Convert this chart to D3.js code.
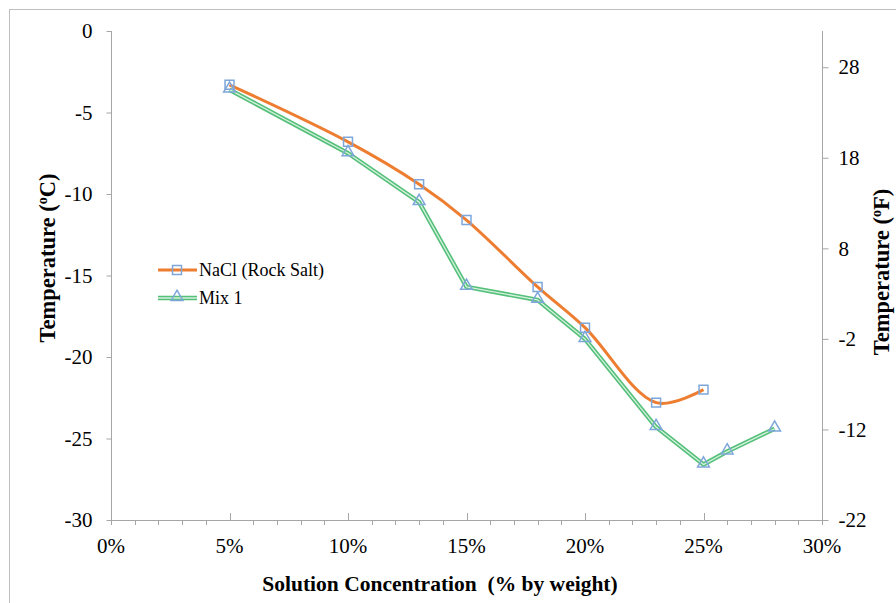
<!DOCTYPE html>
<html>
<head>
<meta charset="utf-8">
<script src="https://cdn.jsdelivr.net/npm/d3@7"></script>
<style>
  body { margin: 0; background: #fff; }
  svg { display: block; }
</style>
</head>
<body>
<div id="chart"></div>
<script>
// concentration (% by weight) and freezing temperatures (deg C)
var naclConc = [5, 10, 13, 15, 18, 20, 23, 25];
var naclTemp = [-3.3, -6.8, -9.4, -11.6, -15.7, -18.2, -22.8, -22.0];
var mixConc = [5, 10, 13, 15, 18, 20, 23, 25, 26, 28];
var mixTemp = [-3.6, -7.5, -10.5, -15.7, -16.5, -18.9, -24.3, -26.6, -25.8, -24.4];
var xTicks = [0, 5, 10, 15, 20, 25, 30];
var yTicks = [0, -5, -10, -15, -20, -25, -30];
var fTicks = [28, 18, 8, -2, -12, -22];
var seriesNames = ["NaCl (Rock Salt)", "Mix 1"];

var W = 896, H = 603;
var plotL = 111, plotR = 822, plotT = 31, plotB = 520;
var axisColor = "#a6a6a6";
var markerColor = "#7ea6da";
var serif = "'Liberation Serif', 'Times New Roman', Times, 'DejaVu Serif', serif";
var tickFont = 21, titleFont = 21.5, sideTitleFont = 22.5;

var svg = d3.select("#chart").append("svg")
  .attr("width", W)
  .attr("height", H)
  .attr("font-family", serif);

// outer chart border (cropped on right and bottom)
svg.append("rect")
  .attr("x", 9.5).attr("y", 9.5)
  .attr("width", W).attr("height", H)
  .attr("fill", "none").attr("stroke", "#bfbfbf");

var x = d3.scaleLinear().domain([0, 30]).range([plotL, plotR]);
var y = d3.scaleLinear().domain([-30, 0]).range([plotB, plotT]);
var yF = d3.scaleLinear().domain([-22, 32]).range([plotB, plotT]);

// x axis: minor ticks outside, major ticks inside
svg.append("g")
  .selectAll("line")
  .data(d3.range(1, 31).filter(d => d % 5 !== 0))
  .join("line")
  .attr("x1", d => Math.round(x(d)) + 0.5).attr("x2", d => Math.round(x(d)) + 0.5)
  .attr("y1", plotB).attr("y2", plotB + 5)
  .attr("stroke", axisColor);
svg.append("g")
  .selectAll("line")
  .data(xTicks)
  .join("line")
  .attr("x1", d => Math.round(x(d)) + 0.5).attr("x2", d => Math.round(x(d)) + 0.5)
  .attr("y1", plotB - 7).attr("y2", plotB)
  .attr("stroke", axisColor);
svg.append("line")
  .attr("x1", plotL).attr("x2", plotR + 1)
  .attr("y1", plotB + 0.5).attr("y2", plotB + 0.5)
  .attr("stroke", axisColor);
svg.append("g")
  .selectAll("text")
  .data(xTicks)
  .join("text")
  .attr("x", d => x(d))
  .attr("y", plotB + 33)
  .attr("text-anchor", "middle")
  .attr("font-size", tickFont)
  .text(d => d + "%");

// left axis
var yAxis = svg.append("g")
  .attr("transform", "translate(" + (plotL + 0.5) + ",0)")
  .call(d3.axisLeft(y).tickValues(yTicks).tickFormat(d => String(d))
    .tickSize(5).tickPadding(14).tickSizeOuter(0));
yAxis.attr("font-family", serif);
yAxis.select(".domain").attr("stroke", axisColor).attr("d", "M0," + plotT + "V" + (plotB + 5));
yAxis.selectAll(".tick line").attr("stroke", axisColor);
yAxis.selectAll(".tick text").attr("font-size", tickFont).attr("fill", "#000");

// right axis (deg F)
var fAxis = svg.append("g")
  .attr("transform", "translate(" + (plotR + 0.5) + ",0)")
  .call(d3.axisRight(yF).tickValues(fTicks).tickFormat(d => String(d))
    .tickSize(6).tickPadding(10).tickSizeOuter(0));
fAxis.attr("font-family", serif);
fAxis.select(".domain").attr("stroke", axisColor).attr("d", "M0," + plotT + "V" + (plotB + 5));
fAxis.selectAll(".tick line").attr("stroke", axisColor);
fAxis.selectAll(".tick text").attr("font-size", tickFont).attr("fill", "#000");

// axis titles
svg.append("text")
  .attr("x", 440).attr("y", 591)
  .attr("text-anchor", "middle")
  .attr("font-size", titleFont).attr("font-weight", "bold")
  .style("white-space", "pre")
  .text("Solution Concentration  (% by weight)");

var lt = svg.append("text")
  .attr("transform", "translate(55,258) rotate(-90)")
  .attr("text-anchor", "middle")
  .attr("font-size", sideTitleFont).attr("font-weight", "bold");
lt.append("tspan").text("Temperature (");
lt.append("tspan").attr("font-size", 14).attr("dy", -8).text("o");
lt.append("tspan").attr("dy", 8).text("C)");

var rt = svg.append("text")
  .attr("transform", "translate(889,272) rotate(-90)")
  .attr("text-anchor", "middle")
  .attr("font-size", sideTitleFont).attr("font-weight", "bold");
rt.append("tspan").text("Temperature (");
rt.append("tspan").attr("font-size", 14).attr("dy", -8).text("o");
rt.append("tspan").attr("dy", 8).text("F)");

// series
var nacl = naclConc.map((c, i) => [c, naclTemp[i]]);
var mix = mixConc.map((c, i) => [c, mixTemp[i]]);

var smooth = d3.line().x(d => x(d[0])).y(d => y(d[1])).curve(d3.curveCatmullRom.alpha(0.5));
var straight = d3.line().x(d => x(d[0])).y(d => y(d[1]));

function greenLine(g, path) {
  g.append("path").attr("d", path).attr("fill", "none")
    .attr("stroke", "#55c07a").attr("stroke-width", 4.5).attr("stroke-linejoin", "round");
  g.append("path").attr("d", path).attr("fill", "none")
    .attr("stroke", "#d6f1df").attr("stroke-width", 1.3).attr("stroke-linejoin", "round");
}

greenLine(svg.append("g"), straight(mix));
svg.append("path")
  .attr("d", smooth(nacl))
  .attr("fill", "none")
  .attr("stroke", "#ed7d31")
  .attr("stroke-width", 3);

var square = d3.symbol().type(d3.symbolSquare).size(80);
var tri = d3.symbol().type(d3.symbolTriangle).size(60);

svg.append("g").selectAll("path")
  .data(nacl)
  .join("path")
  .attr("transform", d => "translate(" + x(d[0]) + "," + y(d[1]) + ")")
  .attr("d", square)
  .attr("fill", "none")
  .attr("stroke", markerColor)
  .attr("stroke-width", 1.5);

svg.append("g").selectAll("path")
  .data(mix)
  .join("path")
  .attr("transform", d => "translate(" + x(d[0]) + "," + (y(d[1]) - 1) + ")")
  .attr("d", tri)
  .attr("fill", "none")
  .attr("stroke", markerColor)
  .attr("stroke-width", 1.5);

// legend
var legY = [270, 298];
var leg = svg.append("g");
leg.append("line")
  .attr("x1", 158).attr("x2", 197)
  .attr("y1", legY[0]).attr("y2", legY[0])
  .attr("stroke", "#ed7d31").attr("stroke-width", 3);
leg.append("path")
  .attr("transform", "translate(177," + legY[0] + ")")
  .attr("d", square)
  .attr("fill", "none").attr("stroke", markerColor).attr("stroke-width", 1.5);
greenLine(leg, "M158," + legY[1] + "H197");
leg.append("path")
  .attr("transform", "translate(177," + (legY[1] - 1) + ")")
  .attr("d", tri)
  .attr("fill", "none").attr("stroke", markerColor).attr("stroke-width", 1.5);
leg.selectAll("text")
  .data(seriesNames)
  .join("text")
  .attr("x", 199)
  .attr("y", (d, i) => legY[i] + 6)
  .attr("font-size", 18)
  .text(d => d);
</script>
</body>
</html>
